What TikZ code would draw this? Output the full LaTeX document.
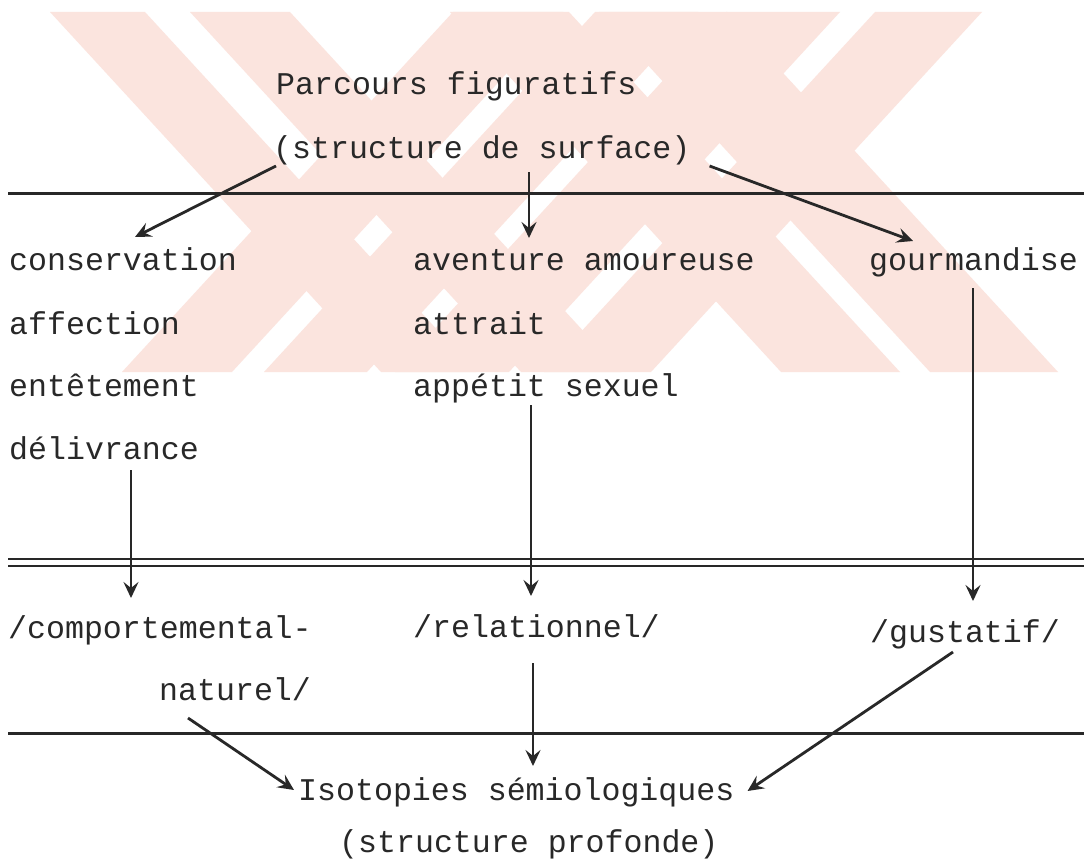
\documentclass[tikz,border=0pt]{standalone}
\usepackage{fontspec}
\setmainfont{Liberation Mono}
\usetikzlibrary{arrows.meta,calc}
\definecolor{wmpink}{RGB}{251,228,222}
\definecolor{ink}{RGB}{40,40,40}
\tikzset{
  txt/.style={anchor=base west, inner sep=0pt, text height=20pt, text depth=6pt,
              text=ink, font=\fontsize{31.6}{38}\selectfont},
  arr/.style={draw=ink, line width=2.8pt,
              -{Stealth[length=16pt,width=15pt,inset=6pt]}},
  rule/.style={draw=ink, line width=3pt},
  wm/.style={fill=wmpink}
}
\begin{document}
\begin{tikzpicture}[x=1pt,y=-1pt]
\useasboundingbox (0,0) rectangle (1084,859);
\fill[white] (0,0) rectangle (1084,859);
% watermark
\begin{scope}
\clip (0,12) rectangle (1084,372);
\foreach \a/\b in {50/145,190/290}{
  \fill[wm] (\a,12) -- (\b,12) -- (\b+331,372) -- (\a+331,372) -- cycle;}
\foreach \a/\b in {453/563,595/698,726/840,875/982}{
  \fill[wm] (\a,12) -- (\b,12) -- (\b-331,372) -- (\a-331,372) -- cycle;}
\foreach \a/\b in {450/569,599/727}{
  \fill[wm] (\a,12) -- (\b,12) -- (\b+331,372) -- (\a+331,372) -- cycle;}
\end{scope}
% rules
\draw[rule] (8,193) -- (1084,193);
\draw[rule, line width=2.6pt] (8,559) -- (1084,559);
\draw[rule, line width=2.6pt] (8,566) -- (1084,566);
\draw[rule] (8,733) -- (1084,733);
% texts
\node[txt] (pf) at (276,95) {Parcours figuratifs};
\node[txt] (sds) at (273,158) {(structure de surface)};
\node[txt] (cons) at (9,270) {conservation};
\node[txt] (aff) at (9,334) {affection};
\node[txt] (ent) at (9,396) {entêtement};
\node[txt] (deli) at (9,459) {délivrance};
\node[txt] (av) at (413,270) {aventure amoureuse};
\node[txt] (attr) at (413,334) {attrait};
\node[txt] (app) at (413,396) {appétit sexuel};
\node[txt] (gour) at (869,270) {gourmandise};
\node[txt] (comp) at (8,638) {/comportemental-};
\node[txt] (nat) at (159,700) {naturel/};
\node[txt] (rel) at (413,637) {/relationnel/};
\node[txt] (gus) at (870,642) {/gustatif/};
\node[txt] (iso) at (298,800) {Isotopies sémiologiques};
\node[txt] (prof) at (339,852) {(structure profonde)};
% arrows
\draw[arr] ($(sds.base west)+(3,8)$) -- ($(cons.base west)+(126,-33)$);
\draw[arr] ($(sds.base west)+(256,14)$) -- ($(av.base west)+(116,-32)$);
\draw[arr] ($(sds.base east)+(19,8)$) -- ($(gour.base west)+(44,-29)$);
\draw[arr] ($(deli.base west)+(122,11)$) -- ($(comp.base west)+(123,-40)$);
\draw[arr] ($(app.base west)+(118,9)$) -- ($(rel.base west)+(118,-41)$);
\draw[arr] ($(gour.base west)+(104,18)$) -- ($(gus.base west)+(103,-41)$);
\draw[arr] ($(nat.base west)+(29,18)$) -- ($(iso.base west)+(-4,-10)$);
\draw[arr] ($(rel.base west)+(120,26)$) -- ($(iso.base west)+(235,-34)$);
\draw[arr] ($(gus.base west)+(83,10)$) -- ($(iso.base east)+(13,-9)$);
\end{tikzpicture}
\end{document}
